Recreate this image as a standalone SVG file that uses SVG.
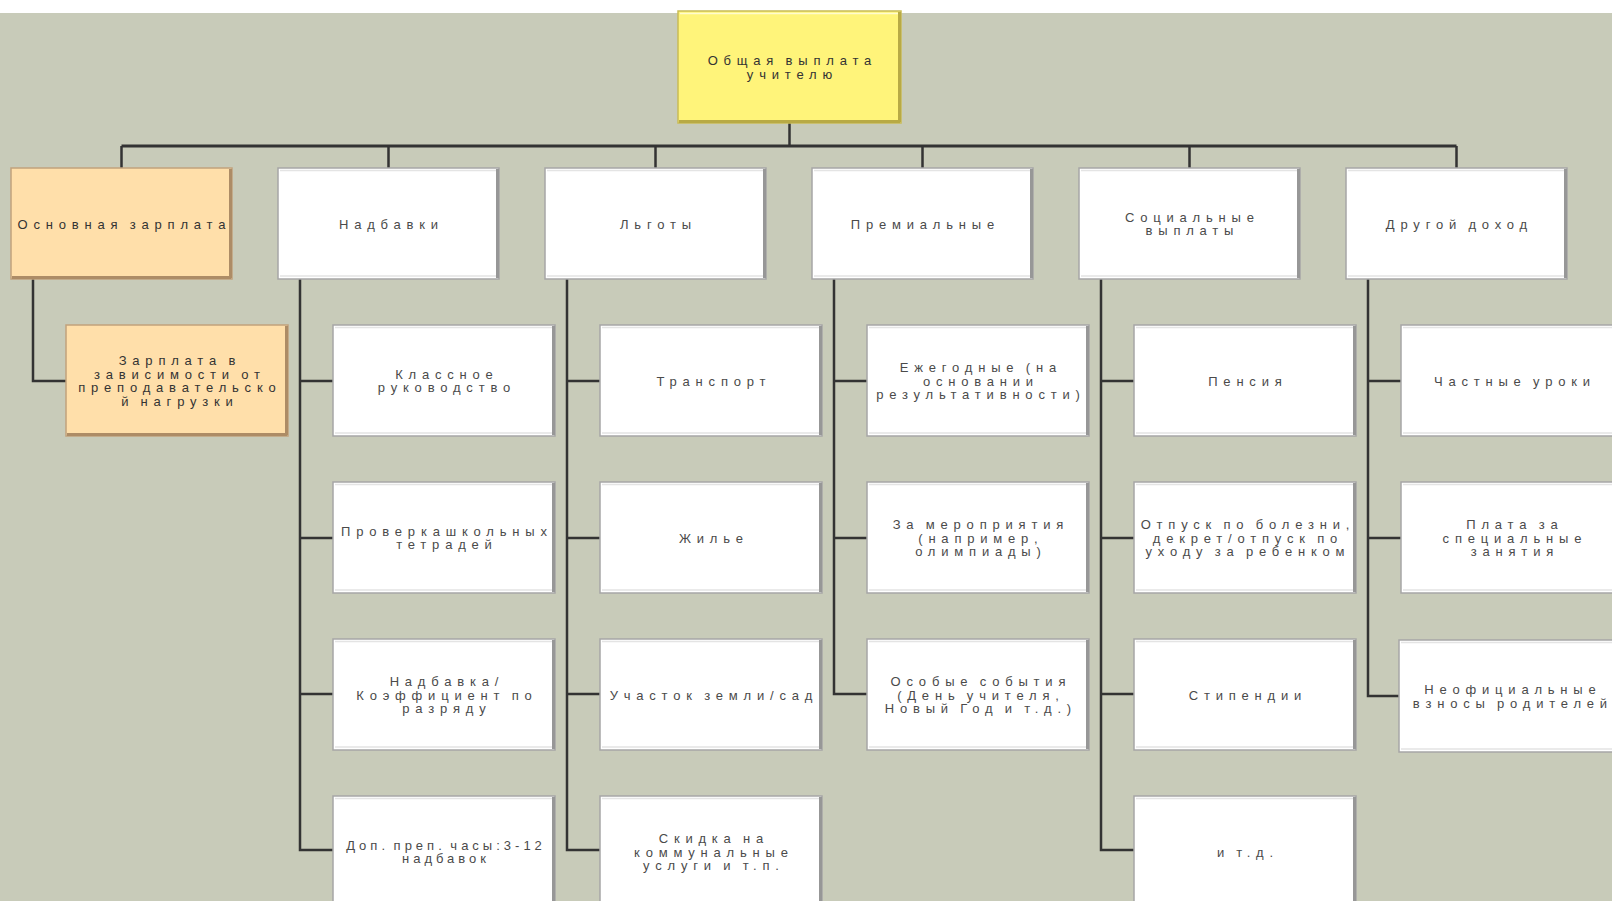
<svg xmlns="http://www.w3.org/2000/svg" width="1612" height="901" viewBox="0 0 1612 901">
<style>
.bg{fill:#c8cbb9}
.wb{fill:#ffffff;stroke:#a6a6a6;stroke-width:1.5}
.yb{fill:#fff47a;stroke:#c9bc55;stroke-width:1.5}
.ob{fill:#ffdfaa;stroke:#c1a27c;stroke-width:1.5}
.sh{fill:none;stroke:#979797;stroke-width:3}
.shy{fill:none;stroke:#b8aa45;stroke-width:3}
.sho{fill:none;stroke:#ad8c66;stroke-width:3}
.hl{fill:none;stroke:#e4e4e4;stroke-width:1.5}
.hlc{fill:none;stroke:#fffbd0;stroke-width:1.5}
.con{fill:none;stroke:#333333;stroke-width:2.5;stroke-linejoin:miter;stroke-linecap:butt}
.bus{fill:none;stroke:#333333;stroke-width:3}
text{font-family:"Liberation Sans",Arial,sans-serif;font-size:13px;letter-spacing:5.8px;word-spacing:-3px;text-anchor:middle}
.td{fill:#333333}
.tg{fill:#4a4a4a}
.narrow{letter-spacing:4px}
</style>
<rect x="0" y="0" width="1612" height="901" fill="#ffffff"/>
<rect class="bg" x="0" y="13" width="1612" height="888"/>

<g id="connectors">
<path class="con" d="M789.5 123 V146"/>
<path class="bus" d="M121.5 146 H1456.5"/>
<path class="con" d="M121.5 146 V168 M388.5 146 V168 M655.5 146 V168 M922.5 146 V168 M1189.5 146 V168 M1456.5 146 V168"/>
<path class="con" d="M33 279 V381 H66"/>
<path class="con" d="M300 279 V850 H333 M300 381 H333 M300 538 H333 M300 694 H333"/>
<path class="con" d="M567 279 V850 H600 M567 381 H600 M567 538 H600 M567 694 H600"/>
<path class="con" d="M834 279 V694 H867 M834 381 H867 M834 538 H867"/>
<path class="con" d="M1101 279 V850 H1134 M1101 381 H1134 M1101 538 H1134 M1101 694 H1134"/>
<path class="con" d="M1368 279 V696 H1399 M1368 381 H1401 M1368 538 H1401"/>
</g>

<g id="root">
<rect class="yb" x="678" y="11" width="223" height="112"/>
<path class="hlc" d="M680 13.5 H898"/>
<path class="shy" d="M899.5 12 V122 M679 121.5 H900"/>
<text class="td"><tspan x="792.4" y="65.25">Общая выплата</tspan><tspan x="792.4" y="78.75">учителю</tspan></text>
</g>

<g id="l1-osnovnaya">
<rect class="ob" x="11" y="168" width="221" height="111"/>
<path class="sho" d="M230.5 169 V278 M12 277.5 H231"/>
<text class="td"><tspan x="124.4" y="228.5">Основная зарплата</tspan></text>
</g>
<g id="l1-nadbavki">
<rect class="wb" x="278" y="168" width="221" height="111"/>
<path class="hl" d="M280 170.5 H496 M280 276 H496"/>
<path class="sh" d="M497.5 169 V278"/>
<text class="tg"><tspan x="391.4" y="228.5">Надбавки</tspan></text>
</g>
<g id="l1-lgoty">
<rect class="wb" x="545" y="168" width="221" height="111"/>
<path class="hl" d="M547 170.5 H763 M547 276 H763"/>
<path class="sh" d="M764.5 169 V278"/>
<text class="tg"><tspan x="658.4" y="228.5">Льготы</tspan></text>
</g>
<g id="l1-premialnye">
<rect class="wb" x="812" y="168" width="221" height="111"/>
<path class="hl" d="M814 170.5 H1030 M814 276 H1030"/>
<path class="sh" d="M1031.5 169 V278"/>
<text class="tg"><tspan x="925.4" y="228.5">Премиальные</tspan></text>
</g>
<g id="l1-socialnye">
<rect class="wb" x="1079" y="168" width="221" height="111"/>
<path class="hl" d="M1081 170.5 H1297 M1081 276 H1297"/>
<path class="sh" d="M1298.5 169 V278"/>
<text class="tg"><tspan x="1192.4" y="221.75">Социальные</tspan><tspan x="1192.4" y="235.25">выплаты</tspan></text>
</g>
<g id="l1-drugoy">
<rect class="wb" x="1346" y="168" width="221" height="111"/>
<path class="hl" d="M1348 170.5 H1564 M1348 276 H1564"/>
<path class="sh" d="M1565.5 169 V278"/>
<text class="tg"><tspan x="1459.4" y="228.5">Другой доход</tspan></text>
</g>

<g id="c1-zarplata">
<rect class="ob" x="66" y="325" width="222" height="111"/>
<path class="sho" d="M286.5 326 V435 M67 434.5 H287"/>
<text class="td"><tspan x="179.9" y="365.25">Зарплата в</tspan><tspan x="179.9" y="378.75">зависимости от</tspan><tspan x="179.9" y="392.25">преподавательско</tspan><tspan x="179.9" y="405.75">й нагрузки</tspan></text>
</g>

<g id="c2-klassnoe">
<rect class="wb" x="333" y="325" width="222" height="111"/>
<path class="hl" d="M335 327.5 H552 M335 433 H552"/>
<path class="sh" d="M553.5 326 V435"/>
<text class="tg"><tspan x="446.9" y="378.75">Классное</tspan><tspan x="446.9" y="392.25">руководство</tspan></text>
</g>
<g id="c2-proverka">
<rect class="wb" x="333" y="482" width="222" height="111"/>
<path class="hl" d="M335 484.5 H552 M335 590 H552"/>
<path class="sh" d="M553.5 483 V592"/>
<text class="tg"><tspan x="446.9" y="535.75">Проверкашкольных</tspan><tspan x="446.9" y="549.25">тетрадей</tspan></text>
</g>
<g id="c2-razryad">
<rect class="wb" x="333" y="639" width="222" height="111"/>
<path class="hl" d="M335 641.5 H552 M335 747 H552"/>
<path class="sh" d="M553.5 640 V749"/>
<text class="tg"><tspan x="446.9" y="686">Надбавка/</tspan><tspan x="446.9" y="699.5">Коэффициент по</tspan><tspan x="446.9" y="713">разряду</tspan></text>
</g>
<g id="c2-chasy">
<rect class="wb" x="333" y="796" width="222" height="111"/>
<path class="hl" d="M335 798.5 H552"/>
<path class="sh" d="M553.5 797 V906"/>
<text class="tg narrow"><tspan x="446" y="849.75">Доп. преп. часы:3-12</tspan><tspan x="446" y="863.25">надбавок</tspan></text>
</g>

<g id="c3-transport">
<rect class="wb" x="600" y="325" width="222" height="111"/>
<path class="hl" d="M602 327.5 H819 M602 433 H819"/>
<path class="sh" d="M820.5 326 V435"/>
<text class="tg"><tspan x="713.9" y="385.5">Транспорт</tspan></text>
</g>
<g id="c3-zhilye">
<rect class="wb" x="600" y="482" width="222" height="111"/>
<path class="hl" d="M602 484.5 H819 M602 590 H819"/>
<path class="sh" d="M820.5 483 V592"/>
<text class="tg"><tspan x="713.9" y="542.5">Жилье</tspan></text>
</g>
<g id="c3-uchastok">
<rect class="wb" x="600" y="639" width="222" height="111"/>
<path class="hl" d="M602 641.5 H819 M602 747 H819"/>
<path class="sh" d="M820.5 640 V749"/>
<text class="tg"><tspan x="713.9" y="699.5">Участок земли/сад</tspan></text>
</g>
<g id="c3-skidka">
<rect class="wb" x="600" y="796" width="222" height="111"/>
<path class="hl" d="M602 798.5 H819"/>
<path class="sh" d="M820.5 797 V906"/>
<text class="tg"><tspan x="713.9" y="843">Скидка на</tspan><tspan x="713.9" y="856.5">коммунальные</tspan><tspan x="713.9" y="870">услуги и т.п.</tspan></text>
</g>

<g id="c4-ezhegodnye">
<rect class="wb" x="867" y="325" width="222" height="111"/>
<path class="hl" d="M869 327.5 H1086 M869 433 H1086"/>
<path class="sh" d="M1087.5 326 V435"/>
<text class="tg"><tspan x="980.9" y="372">Ежегодные (на</tspan><tspan x="980.9" y="385.5">основании</tspan><tspan x="980.9" y="399">результативности)</tspan></text>
</g>
<g id="c4-meropriyatiya">
<rect class="wb" x="867" y="482" width="222" height="111"/>
<path class="hl" d="M869 484.5 H1086 M869 590 H1086"/>
<path class="sh" d="M1087.5 483 V592"/>
<text class="tg"><tspan x="980.9" y="529">За мероприятия</tspan><tspan x="980.9" y="542.5">(например,</tspan><tspan x="980.9" y="556">олимпиады)</tspan></text>
</g>
<g id="c4-osobye">
<rect class="wb" x="867" y="639" width="222" height="111"/>
<path class="hl" d="M869 641.5 H1086 M869 747 H1086"/>
<path class="sh" d="M1087.5 640 V749"/>
<text class="tg"><tspan x="980.9" y="686">Особые события</tspan><tspan x="980.9" y="699.5">(День учителя,</tspan><tspan x="980.9" y="713">Новый Год и т.д.)</tspan></text>
</g>

<g id="c5-pensiya">
<rect class="wb" x="1134" y="325" width="222" height="111"/>
<path class="hl" d="M1136 327.5 H1353 M1136 433 H1353"/>
<path class="sh" d="M1354.5 326 V435"/>
<text class="tg"><tspan x="1247.9" y="385.5">Пенсия</tspan></text>
</g>
<g id="c5-otpusk">
<rect class="wb" x="1134" y="482" width="222" height="111"/>
<path class="hl" d="M1136 484.5 H1353 M1136 590 H1353"/>
<path class="sh" d="M1354.5 483 V592"/>
<text class="tg"><tspan x="1247.9" y="529">Отпуск по болезни,</tspan><tspan x="1247.9" y="542.5">декрет/отпуск по</tspan><tspan x="1247.9" y="556">уходу за ребенком</tspan></text>
</g>
<g id="c5-stipendii">
<rect class="wb" x="1134" y="639" width="222" height="111"/>
<path class="hl" d="M1136 641.5 H1353 M1136 747 H1353"/>
<path class="sh" d="M1354.5 640 V749"/>
<text class="tg"><tspan x="1247.9" y="699.5">Стипендии</tspan></text>
</g>
<g id="c5-itd">
<rect class="wb" x="1134" y="796" width="222" height="111"/>
<path class="hl" d="M1136 798.5 H1353"/>
<path class="sh" d="M1354.5 797 V906"/>
<text class="tg"><tspan x="1247.9" y="856.5">и т.д.</tspan></text>
</g>

<g id="c6-chastnye">
<rect class="wb" x="1401" y="325" width="222" height="111"/>
<path class="hl" d="M1403 327.5 H1620 M1403 433 H1620"/>
<text class="tg"><tspan x="1514.9" y="385.5">Частные уроки</tspan></text>
</g>
<g id="c6-plata">
<rect class="wb" x="1401" y="482" width="222" height="111"/>
<path class="hl" d="M1403 484.5 H1620 M1403 590 H1620"/>
<text class="tg"><tspan x="1514.9" y="529">Плата за</tspan><tspan x="1514.9" y="542.5">специальные</tspan><tspan x="1514.9" y="556">занятия</tspan></text>
</g>
<g id="c6-neofic">
<rect class="wb" x="1399" y="640" width="222" height="112"/>
<path class="hl" d="M1401 642.5 H1618 M1401 749 H1618"/>
<text class="tg"><tspan x="1512.9" y="694.25">Неофициальные</tspan><tspan x="1512.9" y="707.75">взносы родителей</tspan></text>
</g>
</svg>
